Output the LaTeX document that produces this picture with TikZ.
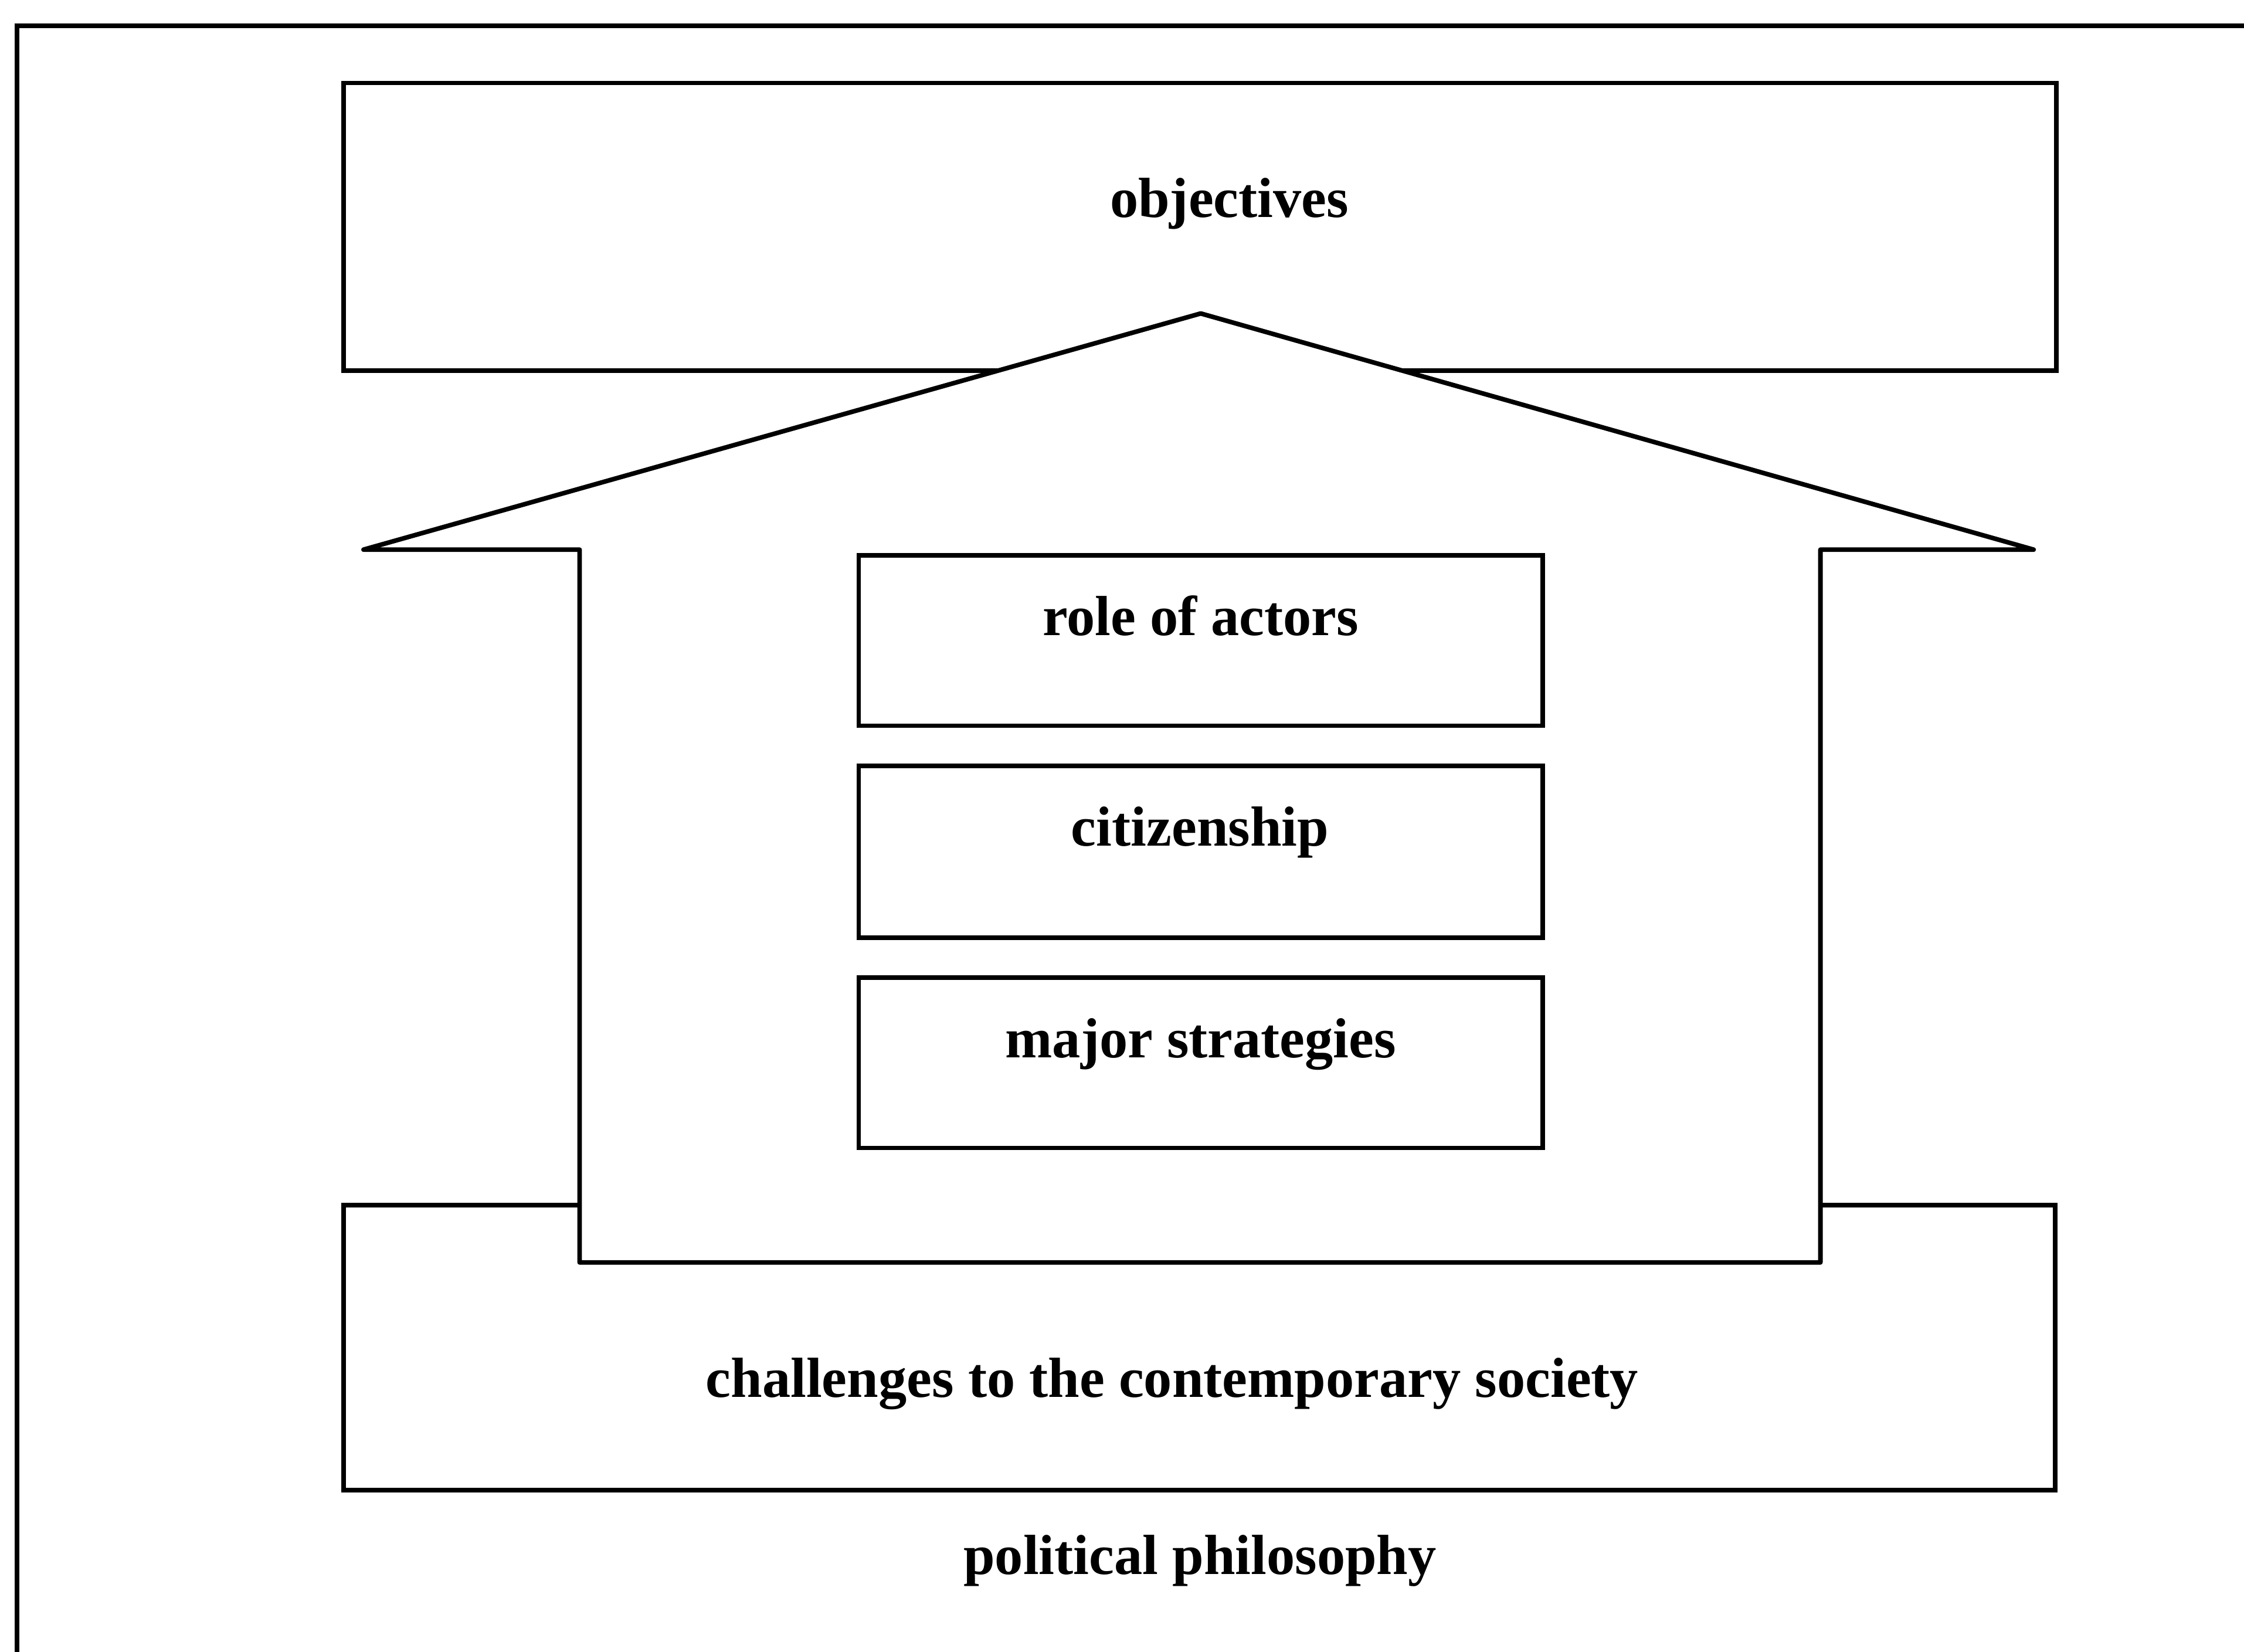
\documentclass[tikz,border=0pt]{standalone}
\usepackage{fontspec}
\setmainfont{Liberation Serif}
\begin{document}
\begin{tikzpicture}[x=1pt,y=-1pt,line width=3.2pt,line join=miter,
  box/.style={draw,fill=white,rectangle,inner sep=0pt},
  lbl/.style={anchor=base,inner sep=0pt,font=\fontsize{39.5}{42}\selectfont\bfseries}]
\useasboundingbox (0,0) rectangle (1568,1154);
% outer frame (open on right and bottom)
\coordinate (fbl) at (12,1154);
\coordinate (ftl) at (12,18);
\coordinate (ftr) at (1568,18);
\draw (fbl) -- (ftl) -- (ftr);
% objectives and challenges boxes
\node[box,minimum width=1197pt,minimum height=201pt] (obj) at (838.5,158.5) {};
\node[box,minimum width=1196pt,minimum height=199pt] (chal) at (838,941.5) {};
% house
\coordinate (hl) at (254,384);
\coordinate (apex) at (839,219);
\coordinate (hr) at (1421,384);
\coordinate (wr) at (1272,384);
\coordinate (wrb) at (1272,882);
\coordinate (wlb) at (405,882);
\coordinate (wl) at (405,384);
\draw[fill=white,line join=round] (hl) -- (apex) -- (hr) -- (wr) -- (wrb) -- (wlb) -- (wl) -- cycle;
% inner boxes
\node[box,minimum width=478pt,minimum height=119pt] (role) at (839,447.5) {};
\node[box,minimum width=478pt,minimum height=120pt] (cit) at (839,595) {};
\node[box,minimum width=478pt,minimum height=119pt] (maj) at (839,742.5) {};
% labels
\node[lbl] (tobj) at (859,152) {objectives};
\node[lbl] (trole) at (839,444) {role of actors};
\node[lbl] (tcit) at (838.5,591) {citizenship};
\node[lbl] (tmaj) at (839,739) {major strategies};
\node[lbl] (tchal) at (819,976) {challenges to the contemporary society};
\node[lbl] (tpol) at (838.5,1100) {political philosophy};
\end{tikzpicture}
\end{document}
